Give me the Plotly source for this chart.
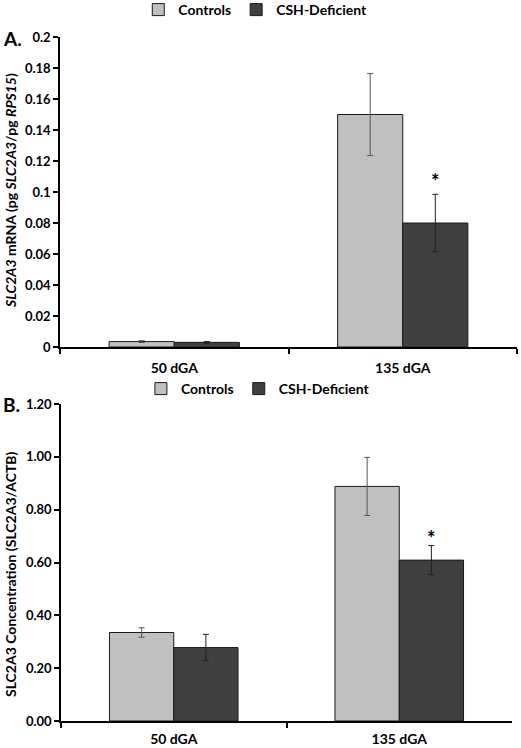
import plotly.graph_objects as go

categories = ["50 dGA", "135 dGA"]

# Panel A: SLC2A3 mRNA
a_controls = [0.0035, 0.150]
a_controls_err = [0.0006, 0.0265]
a_deficient = [0.003, 0.080]
a_deficient_err = [0.0005, 0.0185]

# Panel B: SLC2A3 protein concentration
b_controls = [0.335, 0.888]
b_controls_err = [0.018, 0.11]
b_deficient = [0.278, 0.609]
b_deficient_err = [0.050, 0.055]

a_ticks = [0, 0.02, 0.04, 0.06, 0.08, 0.1, 0.12, 0.14, 0.16, 0.18, 0.2]
a_ticktext = ["0", "0.02", "0.04", "0.06", "0.08", "0.1", "0.12", "0.14", "0.16", "0.18", "0.2"]
b_ticks = [0, 0.2, 0.4, 0.6, 0.8, 1.0, 1.2]

a_ytitle = "<b><i>SLC2A3</i> mRNA (pg <i>SLC2A3</i>/pg <i>RPS15</i>)</b>"
b_ytitle = "<b>SLC2A3 Concentration (SLC2A3/ACTB)</b>"

FONT = "Lato"
C_CTRL = "#C0C0C0"
C_DEF = "#404040"

fig = go.Figure()

def add_bars(xa, ya, ctrl, ctrl_err, dfc, dfc_err, legend):
    fig.add_trace(go.Bar(
        x=categories, y=ctrl, name="Controls", xaxis=xa, yaxis=ya,
        marker=dict(color=C_CTRL, line=dict(color="#1a1a1a", width=1)),
        error_y=dict(type="data", array=ctrl_err, color="#555555", thickness=1, width=3),
        legend=legend, offsetgroup="c"))
    fig.add_trace(go.Bar(
        x=categories, y=dfc, name="CSH-Deficient", xaxis=xa, yaxis=ya,
        marker=dict(color=C_DEF, line=dict(color="#1a1a1a", width=1)),
        error_y=dict(type="data", array=dfc_err, color="#222222", thickness=1, width=3),
        legend=legend, offsetgroup="d"))

add_bars("x", "y", a_controls, a_controls_err, a_deficient, a_deficient_err, "legend")
add_bars("x2", "y2", b_controls, b_controls_err, b_deficient, b_deficient_err, "legend2")

W, H = 521, 748
ytickfont = dict(family=FONT, size=13, color="black", weight="bold")
xtickfont = dict(family=FONT, size=14, color="black", weight="bold")
common_x = dict(type="category", showline=True, linecolor="black", linewidth=1.5,
                ticks="outside", tickson="boundaries", ticklen=5, tickcolor="black",
                tickwidth=1.5, tickfont=xtickfont,
                showgrid=False, zeroline=False, automargin=False)
common_y = dict(showline=True, linecolor="black", linewidth=1.5, ticks="outside",
                ticklen=5, tickcolor="black", tickwidth=1.5, tickfont=ytickfont,
                showgrid=False, zeroline=False, automargin=False)
legend_font = dict(family=FONT, size=14, color="black", weight="bold")

fig.update_layout(
    width=W, height=H,
    margin=dict(l=0, r=0, t=0, b=0, autoexpand=False),
    paper_bgcolor="white", plot_bgcolor="white",
    barmode="group", bargap=0.43, bargroupgap=0,
    font=dict(family=FONT, color="black"),
    xaxis=dict(domain=[60 / W, 517 / W], anchor="y", ticklabelstandoff=7, **common_x),
    yaxis=dict(domain=[1 - 347 / H, 1 - 37 / H], anchor="x", range=[0, 0.2],
               tickvals=a_ticks, ticktext=a_ticktext, **common_y),
    xaxis2=dict(domain=[61 / W, 512 / W], anchor="y2", ticklabelstandoff=4, **common_x),
    yaxis2=dict(domain=[1 - 721 / H, 1 - 404 / H], anchor="x2", range=[0, 1.2],
                tickvals=b_ticks, tickformat=".2f", **common_y),
    legend=dict(orientation="h", x=0.49, xanchor="center", y=1 - 10 / H, yanchor="middle",
                xref="container", yref="container",
                font=legend_font, itemwidth=30, bgcolor="rgba(0,0,0,0)"),
    legend2=dict(orientation="h", x=0.495, xanchor="center", y=1 - 389 / H, yanchor="middle",
                 xref="container", yref="container",
                 font=legend_font, itemwidth=30, bgcolor="rgba(0,0,0,0)"),
)

# y-axis titles
fig.add_annotation(text=a_ytitle, xref="paper", yref="paper", x=10 / W, y=1 - 191 / H,
                   textangle=-90, showarrow=False, xanchor="center", yanchor="middle",
                   font=dict(family=FONT, size=14, color="black"))
fig.add_annotation(text=b_ytitle, xref="paper", yref="paper", x=10 / W, y=1 - 574 / H,
                   textangle=-90, showarrow=False, xanchor="center", yanchor="middle",
                   font=dict(family=FONT, size=14, color="black"))

# panel letters
fig.add_annotation(text="<b>A.</b>", xref="paper", yref="paper", x=1 / W, y=1 - 39 / H,
                   xanchor="left", yanchor="middle", showarrow=False,
                   font=dict(family=FONT, size=19, color="black"))
fig.add_annotation(text="<b>B.</b>", xref="paper", yref="paper", x=1 / W, y=1 - 404 / H,
                   xanchor="left", yanchor="middle", showarrow=False,
                   font=dict(family=FONT, size=19, color="black"))

# significance asterisks above CSH-Deficient 135 dGA bars
off = (1 - 0.43) / 4
fig.add_annotation(text="<b>*</b>", xref="x", yref="y", x=1 + off,
                   y=a_deficient[1] + a_deficient_err[1], yshift=13, showarrow=False,
                   font=dict(family=FONT, size=20, color="black"))
fig.add_annotation(text="<b>*</b>", xref="x2", yref="y2", x=1 + off,
                   y=b_deficient[1] + b_deficient_err[1], yshift=8, showarrow=False,
                   font=dict(family=FONT, size=20, color="black"))

fig.write_html("out.html", config={"displayModeBar": False},
               post_script="document.body.style.margin='0px';")
